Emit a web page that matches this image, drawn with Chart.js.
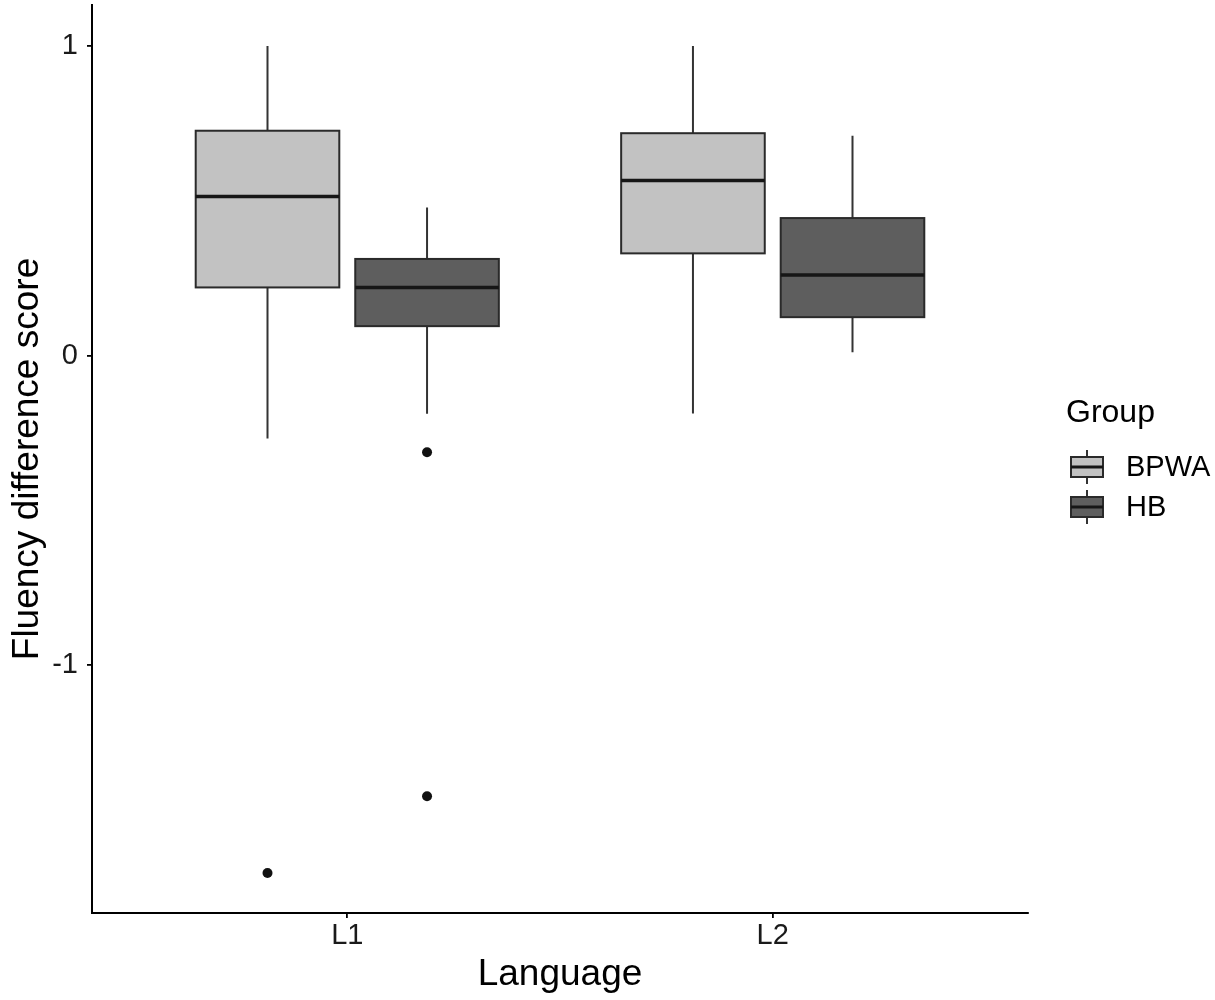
<!DOCTYPE html>
<html>
<head>
<meta charset="utf-8">
<script src="https://cdn.jsdelivr.net/npm/chart.js@4"></script>
<style>
  html, body { margin: 0; padding: 0; background: #ffffff; }
  #wrap { width: 1215px; height: 1000px; }
</style>
</head>
<body>
<div id="wrap"><canvas id="c" width="1215" height="1000"></canvas></div>
<script>
// ---- Data ----
const categories = ['L1', 'L2'];
const groups = ['BPWA', 'HB'];
const yTicks = [-1, 0, 1];

const bpwaMin = [-0.268, -0.187];
const bpwaQ1  = [0.220, 0.330];
const bpwaMed = [0.514, 0.565];
const bpwaQ3  = [0.726, 0.718];
const bpwaMax = [1.000, 1.000];
const bpwaOutliers = [[-1.671], []];

const hbMin = [-0.188, 0.011];
const hbQ1  = [0.095, 0.124];
const hbMed = [0.220, 0.260];
const hbQ3  = [0.312, 0.444];
const hbMax = [0.478, 0.710];
const hbOutliers = [[-0.312, -1.423], []];

// ---- Styling ----
const groupFill = ['#c2c2c2', '#5e5e5e'];
const dodge = [-0.1875, 0.1875];
const boxWidth = 0.3375;
const FONT = "'Liberation Sans', Arial, Helvetica, sans-serif";

const stats = [
  { min: bpwaMin, q1: bpwaQ1, med: bpwaMed, q3: bpwaQ3, max: bpwaMax, out: bpwaOutliers },
  { min: hbMin, q1: hbQ1, med: hbMed, q3: hbQ3, max: hbMax, out: hbOutliers }
];

function outlierPoints(gi) {
  const pts = [];
  categories.forEach((c, ci) => {
    stats[gi].out[ci].forEach(v => pts.push({ x: ci + 1 + dodge[gi], y: v }));
  });
  return pts;
}

function drawBox(ctx, cx, half, yTop, yQ3, yMed, yQ1, yBot, fill) {
  ctx.save();
  ctx.strokeStyle = '#333333';
  ctx.lineWidth = 2;
  ctx.beginPath();
  ctx.moveTo(cx, yTop); ctx.lineTo(cx, yQ3);
  ctx.moveTo(cx, yQ1); ctx.lineTo(cx, yBot);
  ctx.stroke();
  ctx.fillStyle = fill;
  ctx.fillRect(cx - half, yQ3, 2 * half, yQ1 - yQ3);
  ctx.strokeStyle = '#2a2a2a';
  ctx.lineWidth = 2;
  ctx.strokeRect(cx - half, yQ3, 2 * half, yQ1 - yQ3);
  ctx.strokeStyle = '#161616';
  ctx.lineWidth = 3.5;
  ctx.beginPath();
  ctx.moveTo(cx - half, yMed); ctx.lineTo(cx + half, yMed);
  ctx.stroke();
  ctx.restore();
}

const boxPlugin = {
  id: 'boxes',
  beforeDatasetsDraw(chart) {
    const { ctx, scales: { x, y } } = chart;
    const half = (x.getPixelForValue(boxWidth) - x.getPixelForValue(0)) / 2;
    stats.forEach((s, gi) => {
      categories.forEach((c, ci) => {
        const cx = x.getPixelForValue(ci + 1 + dodge[gi]);
        drawBox(ctx, cx, half,
          y.getPixelForValue(s.max[ci]), y.getPixelForValue(s.q3[ci]),
          y.getPixelForValue(s.med[ci]), y.getPixelForValue(s.q1[ci]),
          y.getPixelForValue(s.min[ci]), groupFill[gi]);
      });
    });
  },
  afterDraw(chart) {
    const { ctx } = chart;
    ctx.save();
    ctx.fillStyle = '#000000';
    ctx.textAlign = 'left';
    ctx.textBaseline = 'middle';
    ctx.font = '32px ' + FONT;
    ctx.fillText('Group', 1066, 413);
    groups.forEach((g, gi) => {
      const cy = 467 + gi * 40;
      const kx = 1087;
      ctx.strokeStyle = '#333333';
      ctx.lineWidth = 2;
      ctx.beginPath();
      ctx.moveTo(kx, cy - 17); ctx.lineTo(kx, cy + 17);
      ctx.stroke();
      ctx.fillStyle = groupFill[gi];
      ctx.fillRect(kx - 16, cy - 10, 32, 20);
      ctx.strokeStyle = '#2a2a2a';
      ctx.strokeRect(kx - 16, cy - 10, 32, 20);
      ctx.lineWidth = 3;
      ctx.strokeStyle = '#161616';
      ctx.beginPath();
      ctx.moveTo(kx - 16, cy); ctx.lineTo(kx + 16, cy);
      ctx.stroke();
      ctx.fillStyle = '#000000';
      ctx.font = '29px ' + FONT;
      ctx.fillText(g, 1126, cy + 1);
    });
    ctx.restore();
  }
};

new Chart(document.getElementById('c'), {
  type: 'scatter',
  data: {
    datasets: groups.map((g, gi) => ({
      label: g,
      data: outlierPoints(gi),
      pointRadius: 5,
      pointHoverRadius: 5,
      backgroundColor: '#111111',
      borderColor: '#111111',
      borderWidth: 0
    }))
  },
  options: {
    responsive: false,
    animation: false,
    layout: { padding: { top: 5, right: 187, left: 0, bottom: 0 } },
    plugins: { legend: { display: false }, tooltip: { enabled: false } },
    scales: {
      x: {
        type: 'linear',
        min: 0.4, max: 2.6,
        afterBuildTicks: (s) => { s.ticks = categories.map((c, i) => ({ value: i + 1 })); },
        afterFit: (s) => { s.height = 87; s.paddingLeft = 0; s.paddingRight = 0; },
        ticks: {
          callback: (v) => categories[Math.round(v) - 1] || '',
          font: { size: 29, family: FONT },
          color: '#1a1a1a',
          padding: 1,
          maxRotation: 0
        },
        grid: { display: true, drawOnChartArea: false, drawTicks: true, tickLength: 5, color: '#000000', lineWidth: 1.8 },
        border: { display: true, color: '#000000', width: 2 },
        title: { display: true, text: 'Language', font: { size: 37, family: FONT }, color: '#000000', padding: { top: 0, bottom: 3 } }
      },
      y: {
        type: 'linear',
        min: -1.8, max: 1.132,
        afterBuildTicks: (s) => { s.ticks = yTicks.map(v => ({ value: v })); },
        afterFit: (s) => { s.width = 92; s.paddingTop = 0; s.paddingBottom = 0; },
        ticks: {
          callback: (v) => String(v),
          font: { size: 29, family: FONT },
          color: '#1a1a1a',
          padding: 9
        },
        grid: { display: true, drawOnChartArea: false, drawTicks: true, tickLength: 5, color: '#000000', lineWidth: 1.8 },
        border: { display: true, color: '#000000', width: 2 },
        title: { display: true, text: 'Fluency difference score', font: { size: 37, family: FONT }, color: '#000000', padding: { top: 6, bottom: 0 } }
      }
    }
  },
  plugins: [boxPlugin]
});
</script>
</body>
</html>
